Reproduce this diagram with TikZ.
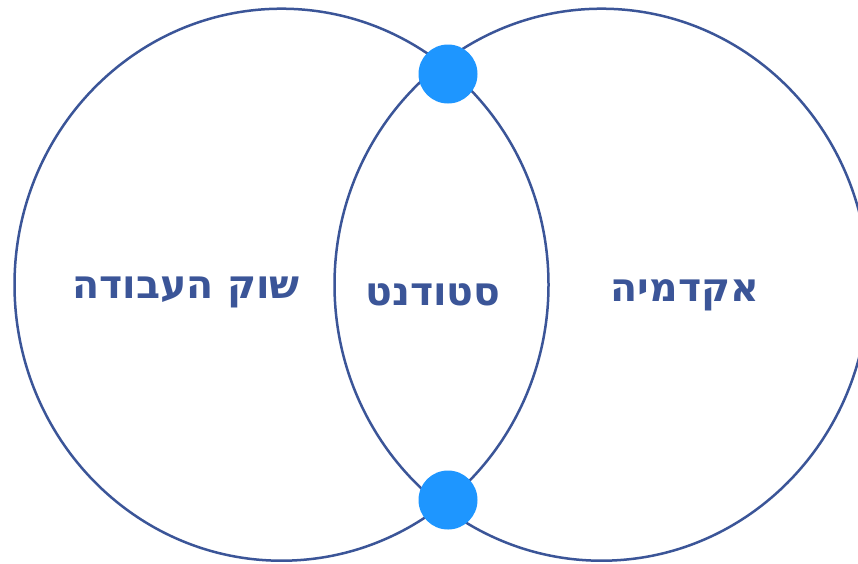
\documentclass[tikz,border=0pt]{standalone}
\usepackage{fontspec}
\TeXXeTstate=1
\newfontfamily\hebfont[Script=Hebrew]{DejaVu Sans}
\definecolor{kav}{HTML}{3B5598}
\definecolor{nekuda}{HTML}{1E96FF}
\begin{document}
\begin{tikzpicture}[x=1pt,y=-1pt,declare function={rx=267; ry=276;},
	lbl/.style={font=\hebfont\bfseries\fontsize{39.5}{46}\selectfont,text=kav,inner sep=0pt},
	dot/.style={circle,fill=nekuda,minimum size=59pt,inner sep=0pt}]
	\useasboundingbox[fill=white] (0,0) rectangle (858,563);
	\path (281.5,284.7) coordinate (L)
	(601.5,284.7) coordinate (R)
	(448,74) coordinate (T)
	(448,500) coordinate (B);
	\begin{scope}
		\clip (0,0) rectangle (858,563);
		\draw[kav,line width=2.5pt] (L) ellipse [x radius=rx, y radius=ry]
		(R) ellipse [x radius=rx, y radius=ry];
	\end{scope}
	\foreach \x in {T,B}
	\node[dot] (dot\x) at (\x) {};
	\node[lbl] (avoda) at (186,292) {\beginR שוק העבודה\endR};
	\node[lbl] (student) at (433,295) {\beginR סטודנט\endR};
	\node[lbl] (akademia) at (685,295) {\beginR אקדמיה\endR};
\end{tikzpicture}
\end{document}
